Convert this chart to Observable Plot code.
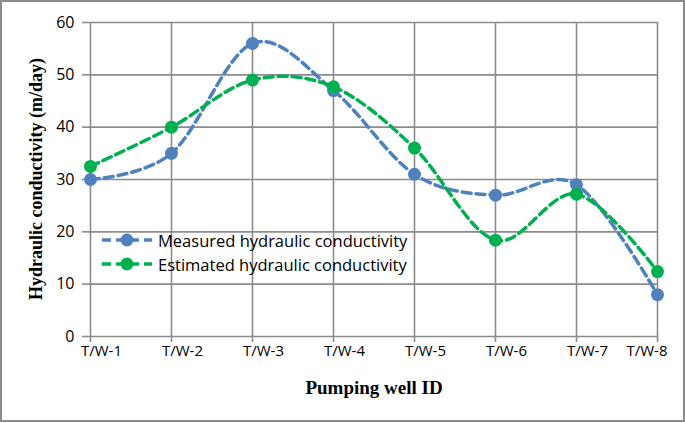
<!DOCTYPE html>
<html>
<head>
<meta charset="utf-8">
<script src="https://cdn.jsdelivr.net/npm/d3@7"></script>
<script src="https://cdn.jsdelivr.net/npm/@observablehq/plot@0.6"></script>
<style>
  html, body { margin: 0; padding: 0; background: #fff; }
  #wrap { position: relative; width: 685px; height: 423px; overflow: hidden; }
  #wrap svg { position: absolute; left: 0; top: 0; }
  #frame { position: absolute; left: 0; top: 0; width: 685px; height: 422px; box-sizing: border-box; border: 2px solid #8c8c8c; pointer-events: none; }
  .ytitle { position: absolute; left: 36px; top: 179px; transform: translate(-50%, -50%) rotate(-90deg); white-space: nowrap;
    font-family: "Liberation Serif", "Times New Roman", serif; font-weight: bold; font-size: 18px; color: #000; }
  .xtitle { position: absolute; left: 374px; top: 388px; transform: translate(-50%, -50%); white-space: nowrap;
    font-family: "Liberation Serif", "Times New Roman", serif; font-weight: bold; font-size: 19px; color: #000; }
  #legend { position: absolute; left: 101px; top: 228px; font-family: "Open Sans", sans-serif; font-size: 16.5px; color: #000; }
  #legend .row { display: flex; align-items: center; height: 24px; }
  #legend svg { position: static; margin-right: 5px; }
</style>
</head>
<body>
<div id="wrap"></div>
<script>
const wells = ["T/W-1", "T/W-2", "T/W-3", "T/W-4", "T/W-5", "T/W-6", "T/W-7", "T/W-8"];
const measured = [30, 35, 56, 47, 31, 27, 29, 8];
const estimated = [32.5, 40, 49, 47.7, 36, 18.4, 27.2, 12.4];
const seriesNames = ["Measured hydraulic conductivity", "Estimated hydraulic conductivity"];
const seriesColors = ["#4f81bd", "#00b050"];
const yTicks = [0, 10, 20, 30, 40, 50, 60];
const yTitle = "Hydraulic conductivity (m/day)";
const xTitle = "Pumping well ID";

const rows = [];
wells.forEach((w, i) => {
  rows.push({well: w, value: measured[i], series: seriesNames[0]});
  rows.push({well: w, value: estimated[i], series: seriesNames[1]});
});

const gridColor = "#8c8c8c";
const tickFont = "Open Sans, sans-serif";

const marks = [
  Plot.gridY(yTicks, {stroke: gridColor, strokeOpacity: 1, strokeWidth: 1.6}),
  Plot.gridX(wells, {stroke: gridColor, strokeOpacity: 1, strokeWidth: 1.6}),
  Plot.axisY(yTicks, {tickSize: 6, tickPadding: 8, stroke: gridColor, strokeWidth: 1.6, fontSize: 16, fontFamily: tickFont, fill: "#000", label: null}),
  Plot.axisX(wells, {tickSize: 6, stroke: gridColor, strokeWidth: 1.6, tickFormat: () => "", label: null}),
  Plot.text(wells.slice(0, -1), {x: d => d, frameAnchor: "bottom", dy: 19, dx: 11, fontSize: 15, fontFamily: tickFont, fill: "#000"}),
  Plot.text(wells.slice(-1), {x: d => d, frameAnchor: "bottom", dy: 19, dx: 10, textAnchor: "end", fontSize: 15, fontFamily: tickFont, fill: "#000"})
];
seriesNames.forEach((s, k) => {
  const d = rows.filter(r => r.series === s);
  marks.push(Plot.line(d, {x: "well", y: "value", curve: "cardinal", stroke: seriesColors[k], strokeWidth: 3.5, strokeDasharray: "9,5"}));
  marks.push(Plot.dot(d, {x: "well", y: "value", r: 6.5, fill: seriesColors[k], stroke: "none"}));
});

const chart = Plot.plot({
  width: 685,
  height: 423,
  marginLeft: 88,
  marginRight: 27,
  marginTop: 22,
  marginBottom: 87,
  style: {background: "transparent"},
  x: {type: "point", domain: wells, padding: 0, axis: null},
  y: {domain: [0, 60], axis: null},
  marks
});

const wrap = document.getElementById("wrap");
wrap.appendChild(chart);

const yt = document.createElement("div"); yt.className = "ytitle"; yt.textContent = yTitle; wrap.appendChild(yt);
const xt = document.createElement("div"); xt.className = "xtitle"; xt.textContent = xTitle; wrap.appendChild(xt);

const legend = document.createElement("div"); legend.id = "legend";
seriesNames.forEach((s, k) => {
  const row = document.createElement("div"); row.className = "row";
  row.innerHTML = `<svg width="52" height="14"><line x1="1" y1="7" x2="51" y2="7" stroke="${seriesColors[k]}" stroke-width="3.5" stroke-dasharray="9,5"/><circle cx="26" cy="7" r="6.5" fill="${seriesColors[k]}"/></svg><span>${s}</span>`;
  legend.appendChild(row);
});
wrap.appendChild(legend);

const frame = document.createElement("div"); frame.id = "frame"; wrap.appendChild(frame);
</script>
</body>
</html>
